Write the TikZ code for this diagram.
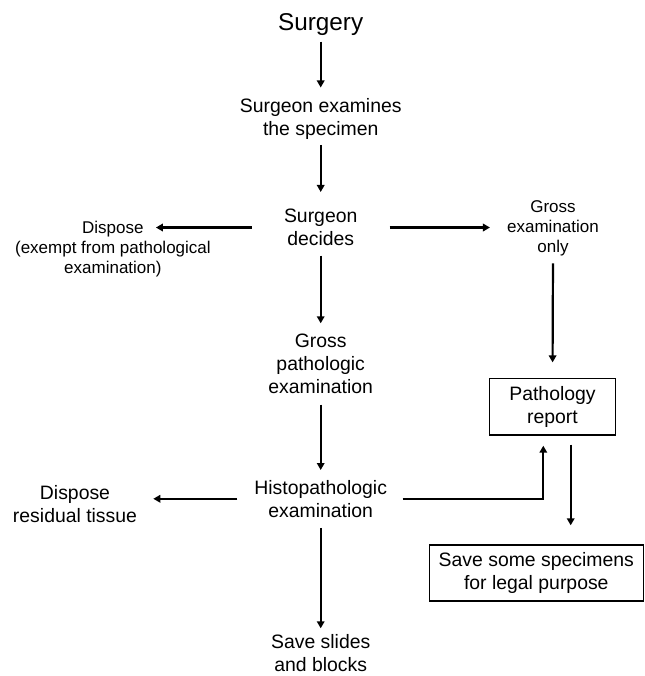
\documentclass[tikz,border=0pt]{standalone}
\usepackage{fontspec}
\setmainfont{Liberation Sans}
\usetikzlibrary{arrows.meta}
\begin{document}
\begin{tikzpicture}[x=1pt,y=-1pt,
  txt/.style={inner sep=0pt, outer sep=0pt, align=center, anchor=north,
    font=\fontsize{19.4}{23.3}\selectfont},
  small/.style={inner sep=0pt, outer sep=0pt, align=center, anchor=north,
    font=\fontsize{17}{20}\selectfont},
  boxed/.style={draw, line width=1.3pt, inner sep=0pt, align=center,
    font=\fontsize{19.4}{23.3}\selectfont},
  arr/.style={line width=2.2pt, -{Triangle[length=7pt,width=7.5pt]}},
  ln/.style={line width=2.2pt}]
\useasboundingbox (0,0) rectangle (644,676);

\node[txt, font=\fontsize{24.3}{28}\selectfont] (surgery) at (320.7,14) {Surgery};
\node[txt] (exam) at (320.7,98) {Surgeon examines\\the specimen};
\node[txt] (decides) at (320.7,209) {Surgeon\\decides};
\node[small] (dispose1) at (112.9,221) {Dispose\\(exempt from pathological\\examination)};
\node[small] (grossonly) at (553,200.7) {Gross\\examination\\only};
\node[txt] (grosspath) at (320.7,333.5) {Gross\\pathologic\\examination};
\node[boxed, minimum width=126.4pt, minimum height=56.7pt] (report) at (552.5,406.7) {Pathology\\report};
\node[txt] (histo) at (320.7,480) {Histopathologic\\examination};
\node[txt] (dispose2) at (75,485) {Dispose\\residual tissue};
\node[boxed, minimum width=214pt, minimum height=56pt] (save) at (536.3,573) {Save some specimens\\for legal purpose};
\node[txt] (slides) at (320.7,634.3) {Save slides\\and blocks};

\draw[arr, shorten <=5.7pt, shorten >=10.5pt] (surgery.south) -- (exam.north);
\draw[arr, shorten <=5.4pt, shorten >=17pt] (exam.south) -- (decides.north);
\draw[arr, shorten <=32.5pt, shorten >=43pt] (decides.west) -- (decides.west -| dispose1.north);
\draw[arr, shorten <=32.2pt, shorten >=17.2pt] (decides.east) -- (decides.east -| grossonly.west);
\draw[arr, shorten <=9.5pt, shorten >=10.2pt] (decides.south) -- (grosspath.north);
\draw[arr, shorten <=7.3pt, shorten >=15.3pt] (grossonly.south) -- (report.north);
\draw[arr, shorten <=10.7pt, shorten >=10pt] (grosspath.south) -- (histo.north);
\draw[arr, shorten <=17pt, shorten >=16.3pt] (histo.west) -- (histo.west -| dispose2.east);
\draw[arr, shorten <=15.7pt, shorten >=10pt] (histo.east) -| ([xshift=-9.2pt]report.south);
\draw[arr, shorten <=9pt, shorten >=19pt] ([xshift=18.2pt]report.south) -- ([xshift=18.2pt]report.south |- save.north);
\draw[arr, shorten <=10.2pt, shorten >=6pt] (histo.south) -- (slides.north);
\end{tikzpicture}
\end{document}
